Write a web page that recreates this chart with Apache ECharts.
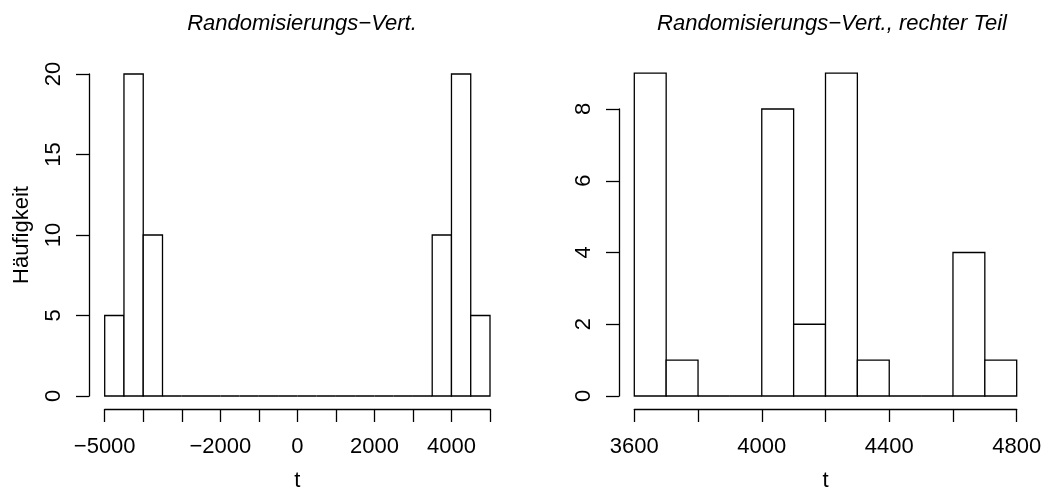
<!DOCTYPE html>
<html>
<head>
<meta charset="utf-8">
<script src="https://cdn.jsdelivr.net/npm/echarts@6/dist/echarts.min.js"></script>
<style>
  html, body { margin: 0; padding: 0; background: #fff; }
  #chart { width: 1047px; height: 487px; }
</style>
</head>
<body>
<div id="chart"></div>
<script>
  // linkes Histogramm: Klassengrenzen und Häufigkeiten
  var leftBreaks = [-5000, -4500, -4000, -3500, -3000, -2500, -2000, -1500, -1000, -500, 0,
                    500, 1000, 1500, 2000, 2500, 3000, 3500, 4000, 4500, 5000];
  var leftCounts = [5, 20, 10, 0, 0, 0, 0, 0, 0, 0, 0, 0, 0, 0, 0, 0, 0, 10, 20, 5];
  var leftLabels = [-5000, -2000, 0, 2000, 4000];

  // rechter Teil
  var rightBreaks = [3600, 3700, 3800, 3900, 4000, 4100, 4200, 4300, 4400, 4500, 4600, 4700, 4800];
  var rightCounts = [9, 1, 0, 0, 8, 2, 9, 1, 0, 0, 4, 1];
  var rightLabels = [3600, 4000, 4400, 4800];

  var FONT = "'Liberation Sans', Arial, Helvetica, sans-serif";
  var FS = 22;

  function toBins(breaks, counts) {
    var out = [];
    for (var i = 0; i < counts.length; i++) {
      out.push([breaks[i], breaks[i + 1], counts[i]]);
    }
    return out;
  }

  function renderBin(params, api) {
    var p0 = api.coord([api.value(0), 0]);
    var p1 = api.coord([api.value(1), api.value(2)]);
    return {
      type: 'rect',
      shape: { x: p0[0], y: p1[1], width: p1[0] - p0[0], height: p0[1] - p1[1] },
      style: { fill: '#fff', stroke: '#000', lineWidth: 1.3 }
    };
  }

  function minusFmt(v) {
    return String(v).replace('-', '\u2212');
  }

  var axisLine = { show: true, onZero: false, lineStyle: { color: '#000', width: 1.3 } };
  var axisTick = { show: true, length: 13, lineStyle: { color: '#000', width: 1.3 } };
  var labelStyle = { color: '#000', fontSize: FS, fontFamily: FONT };
  var nameStyle = { color: '#000', fontSize: FS, fontFamily: FONT };
  var titleStyle = { fontStyle: 'italic', fontWeight: 'normal', fontSize: FS, color: '#000', fontFamily: FONT };

  var chart = echarts.init(document.getElementById('chart'));
  chart.setOption({
    animation: false,
    title: [{
      text: 'Randomisierungs\u2212Vert.',
      left: 297, top: 8, textAlign: 'center', textStyle: titleStyle
    }, {
      text: 'Randomisierungs\u2212Vert., rechter Teil',
      left: 827, top: 8, textAlign: 'center', textStyle: titleStyle
    }],
    grid: [
      { left: 104.7, top: 74, width: 385.3, height: 322, containLabel: false, outerBoundsMode: 'none' },
      { left: 634.3, top: 73.1, width: 382.4, height: 322.9, containLabel: false, outerBoundsMode: 'none' },
      { left: 634.3, top: 109, width: 382.4, height: 287, containLabel: false, outerBoundsMode: 'none' }
    ],
    xAxis: [{
      gridIndex: 0, type: 'value', min: -5000, max: 5000, interval: 1000,
      offset: 13, splitLine: { show: false },
      axisLine: axisLine, axisTick: axisTick,
      axisLabel: Object.assign({ margin: 27, showMinLabel: true, showMaxLabel: true,
        formatter: function (v) { return leftLabels.indexOf(v) >= 0 ? minusFmt(v) : ''; } }, labelStyle),
      name: 't', nameLocation: 'middle', nameGap: 61, nameTextStyle: nameStyle
    }, {
      gridIndex: 1, type: 'value', min: 3600, max: 4800, interval: 200,
      offset: 13, splitLine: { show: false },
      axisLine: axisLine, axisTick: axisTick,
      axisLabel: Object.assign({ margin: 27, showMinLabel: true, showMaxLabel: true,
        formatter: function (v) { return rightLabels.indexOf(v) >= 0 ? String(v) : ''; } }, labelStyle),
      name: 't', nameLocation: 'middle', nameGap: 61, nameTextStyle: nameStyle
    }, {
      gridIndex: 2, type: 'value', min: 3600, max: 4800, show: false
    }],
    yAxis: [{
      gridIndex: 0, type: 'value', min: 0, max: 20, interval: 5,
      offset: 15.7, splitLine: { show: false },
      axisLine: axisLine, axisTick: axisTick,
      axisLabel: Object.assign({ rotate: 90, margin: 24 }, labelStyle),
      name: 'H\u00e4ufigkeit', nameLocation: 'middle', nameGap: 56, nameTextStyle: nameStyle
    }, {
      gridIndex: 1, type: 'value', min: 0, max: 9, show: false
    }, {
      gridIndex: 2, type: 'value', min: 0, max: 8, interval: 2,
      offset: 15.3, splitLine: { show: false },
      axisLine: axisLine, axisTick: axisTick,
      axisLabel: Object.assign({ rotate: 90, margin: 24 }, labelStyle)
    }],
    series: [{
      type: 'custom', xAxisIndex: 0, yAxisIndex: 0,
      renderItem: renderBin, data: toBins(leftBreaks, leftCounts)
    }, {
      type: 'custom', xAxisIndex: 1, yAxisIndex: 1,
      renderItem: renderBin, data: toBins(rightBreaks, rightCounts)
    }]
  });
</script>
</body>
</html>
